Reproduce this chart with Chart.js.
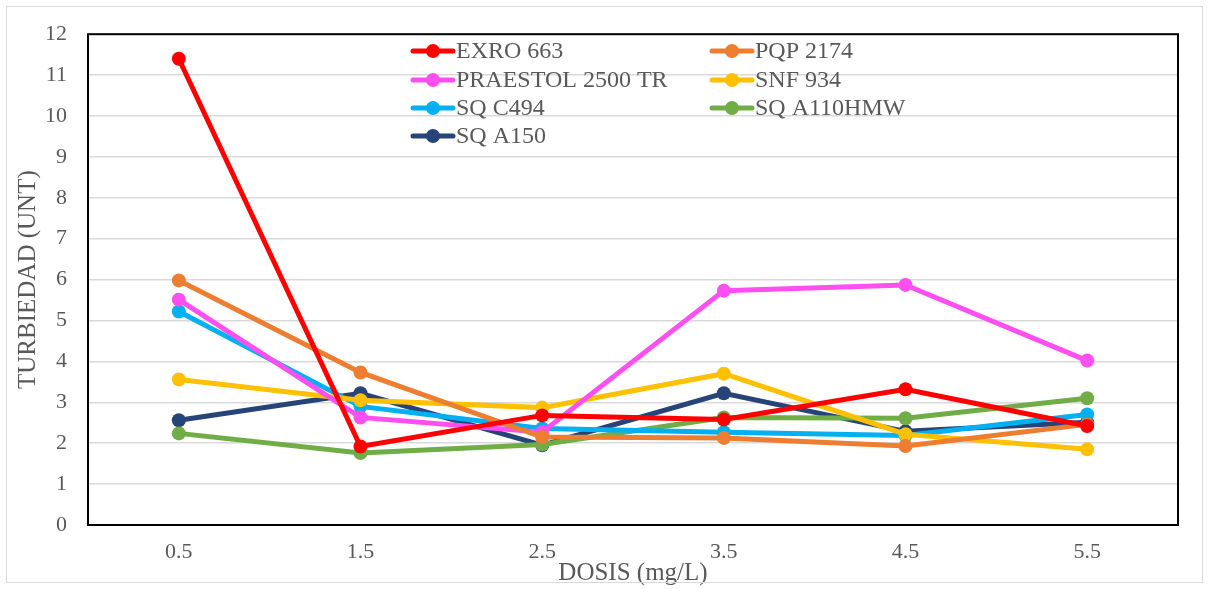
<!DOCTYPE html>
<html>
<head>
<meta charset="utf-8">
<script src="https://cdn.jsdelivr.net/npm/chart.js@4.4.1/dist/chart.umd.min.js"></script>
<style>
  html, body { margin: 0; padding: 0; background: #fff; }
  #wrap { position: relative; width: 1209px; height: 589px; }
  #frame { position: absolute; left: 6px; top: 6px; width: 1195px; height: 575px; border: 1px solid #d9d9d9; pointer-events: none; }
</style>
</head>
<body>
<div id="wrap">
  <canvas id="chart" width="1209" height="589"></canvas>
  <div id="frame"></div>
</div>
<script>
// Doses (mg/L)
var doses = ['0.5', '1.5', '2.5', '3.5', '4.5', '5.5'];

// Turbidity (UNT) per product
var exro663     = [11.4, 1.92, 2.68, 2.58, 3.32, 2.42];
var pqp2174     = [5.98, 3.73, 2.15, 2.13, 1.93, 2.46];
var praestol    = [5.51, 2.63, 2.27, 5.73, 5.87, 4.02];
var snf934      = [3.56, 3.05, 2.87, 3.70, 2.22, 1.85];
var sqC494      = [5.22, 2.90, 2.36, 2.27, 2.19, 2.70];
var sqA110hmw   = [2.24, 1.76, 1.97, 2.63, 2.61, 3.10];
var sqA150      = [2.56, 3.22, 1.95, 3.22, 2.29, 2.51];

var yTicks = [0, 1, 2, 3, 4, 5, 6, 7, 8, 9, 10, 11, 12];

var serif = '"Liberation Serif", "Times New Roman", serif';

function makeSet(label, data, color) {
    return {
        label: label,
        data: data,
        borderColor: color,
        backgroundColor: color,
        borderWidth: 5,
        pointRadius: 7,
        pointHoverRadius: 7,
        pointBorderWidth: 0,
        tension: 0
    };
}

// Plot frame + legend drawn inside the plot area, two columns
var boxAndLegend = {
    id: 'boxAndLegend',
    beforeDatasetsDraw: function(chart) {
        var a = chart.chartArea, ctx = chart.ctx;
        ctx.save();
        ctx.strokeStyle = '#000';
        ctx.lineWidth = 2;
        ctx.strokeRect(a.left, a.top, a.right - a.left, a.bottom - a.top);
        ctx.restore();
    },
    afterDraw: function(chart) {
        var ctx = chart.ctx;
        var cols = [413, 712];
        var rows = [51, 80, 108, 136];
        ctx.save();
        ctx.font = '24px ' + serif;
        ctx.textBaseline = 'middle';
        chart.data.datasets.forEach(function(ds, i) {
            var x = cols[i % 2], y = rows[Math.floor(i / 2)];
            ctx.strokeStyle = ds.borderColor;
            ctx.lineWidth = 5;
            ctx.lineCap = 'round';
            ctx.beginPath();
            ctx.moveTo(x, y);
            ctx.lineTo(x + 40, y);
            ctx.stroke();
            ctx.fillStyle = ds.borderColor;
            ctx.beginPath();
            ctx.arc(x + 20, y, 7, 0, Math.PI * 2);
            ctx.fill();
            ctx.fillStyle = '#595959';
            ctx.fillText(ds.label, x + 43, y + 1);
        });
        ctx.restore();
    }
};

var ctx = document.getElementById('chart').getContext('2d');
var chart = new Chart(ctx, {
    type: 'line',
    data: {
        labels: doses,
        datasets: [
            makeSet('EXRO 663', exro663, '#FF0000'),
            makeSet('PQP 2174', pqp2174, '#ED7D31'),
            makeSet('PRAESTOL 2500 TR', praestol, '#FF4FF0'),
            makeSet('SNF 934', snf934, '#FFC000'),
            makeSet('SQ C494', sqC494, '#00B0F0'),
            makeSet('SQ A110HMW', sqA110hmw, '#70AD47'),
            makeSet('SQ A150', sqA150, '#264478')
        ]
    },
    options: {
        responsive: false,
        animation: false,
        events: [],
        layout: { padding: { left: 0, top: 33, right: 31, bottom: 0 } },
        plugins: {
            legend: { display: false },
            tooltip: { enabled: false }
        },
        scales: {
            x: {
                offset: true,
                grid: { display: false, drawTicks: false },
                border: { display: false },
                ticks: { color: '#595959', font: { family: serif, size: 22 }, padding: 14 },
                title: {
                    display: true,
                    text: 'DOSIS (mg/L)',
                    color: '#595959',
                    font: { family: serif, size: 25 },
                    padding: { top: 0, bottom: 1 }
                },
                afterFit: function(s) { s.height = 64; }
            },
            y: {
                min: 0,
                max: 12,
                afterBuildTicks: function(s) {
                    s.ticks = yTicks.map(function(v) { return { value: v }; });
                },
                grid: {
                    color: function(c) {
                        return (c.tick.value === 0 || c.tick.value === 12) ? 'rgba(0,0,0,0)' : '#d9d9d9';
                    },
                    lineWidth: 1.5,
                    drawTicks: false
                },
                border: { display: false },
                ticks: { color: '#595959', font: { family: serif, size: 22 }, padding: 21 },
                title: {
                    display: true,
                    text: 'TURBIEDAD (UNT)',
                    color: '#595959',
                    font: { family: serif, size: 25 },
                    padding: { top: 13, bottom: 0 }
                },
                afterFit: function(s) { s.width = 88; }
            }
        }
    },
    plugins: [boxAndLegend]
});
</script>
</body>
</html>
